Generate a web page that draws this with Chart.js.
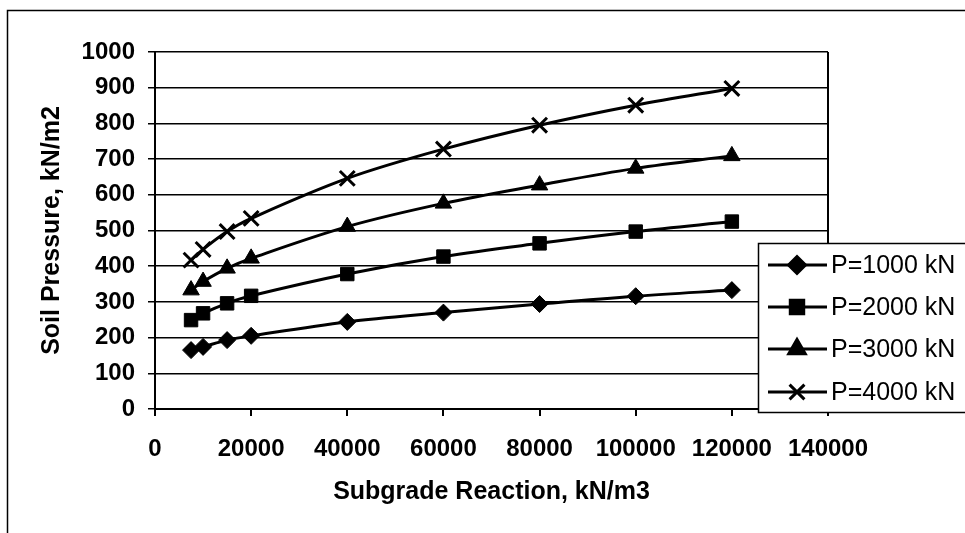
<!DOCTYPE html>
<html lang="en">
<head>
    <meta charset="UTF-8">
    <title>Soil Pressure vs Subgrade Reaction</title>
    <script src="https://cdn.jsdelivr.net/npm/chart.js"></script>
    <style>
        body {
            margin: 0;
            padding: 0;
            background-color: #fff;
            overflow: hidden;
        }
        #chart-container {
            width: 965px;
            height: 533px;
        }
    </style>
</head>
<body>
    <div id="chart-container">
        <canvas id="pressureChart" width="965" height="533"></canvas>
    </div>

    <script>
        // subgrade reaction values (x)
        const subgrade = [7500, 10000, 15000, 20000, 40000, 60000, 80000, 100000, 120000];

        const p1000 = [165, 174, 193, 205, 244, 270, 294, 316, 333];
        const p2000 = [249, 268, 296, 317, 378, 427, 464, 497, 525];
        const p3000 = [333, 357, 394, 422, 511, 576, 627, 674, 709];
        const p4000 = [417, 447, 497, 534, 646, 728, 795, 851, 898];

        const seriesLabels = ['P=1000 kN', 'P=2000 kN', 'P=3000 kN', 'P=4000 kN'];
        const pointStyles = ['rectRot', 'rect', 'triangle', 'crossRot'];
        const pointSizes = [8.5, 9.5, 9.5, 10.5];

        const font = 'Liberation Sans, Arial, sans-serif';

        function makeSet(i, values) {
            return {
                label: seriesLabels[i],
                data: subgrade.map((x, k) => ({ x: x, y: values[k] })),
                borderColor: '#000',
                backgroundColor: '#000',
                borderWidth: 3,
                pointStyle: pointStyles[i],
                pointRadius: pointSizes[i],
                pointBorderWidth: i === 3 ? 3 : 1,
                pointBorderColor: '#000',
                pointBackgroundColor: '#000',
                tension: 0.35,
                fill: false
            };
        }

        // outer frame + legend box drawn on top of the plot
        const frameAndLegend = {
            id: 'frameAndLegend',
            beforeDraw(chart) {
                const ctx = chart.ctx;
                ctx.save();
                ctx.fillStyle = '#fff';
                ctx.fillRect(0, 0, chart.width, chart.height);
                ctx.strokeStyle = '#000';
                ctx.lineWidth = 1.5;
                ctx.strokeRect(7.5, 10.5, 1100, 700);
                ctx.restore();
            },
            afterDraw(chart) {
                const ctx = chart.ctx;
                ctx.save();
                ctx.fillStyle = '#fff';
                ctx.fillRect(758, 243, 220, 169);
                ctx.strokeStyle = '#000';
                ctx.lineWidth = 1.5;
                ctx.strokeRect(758.5, 243.5, 220, 169);

                const rows = [265, 307, 349, 392];
                ctx.font = '25px ' + font;
                ctx.textBaseline = 'middle';
                chart.data.datasets.forEach((ds, i) => {
                    const y = rows[i];
                    ctx.strokeStyle = '#000';
                    ctx.lineWidth = 3;
                    ctx.beginPath();
                    ctx.moveTo(768, y);
                    ctx.lineTo(827, y);
                    ctx.stroke();
                    ctx.fillStyle = '#000';
                    Chart.helpers.drawPoint(ctx, {
                        pointStyle: ds.pointStyle,
                        radius: ds.pointRadius,
                        borderWidth: ds.pointBorderWidth,
                        rotation: 0
                    }, 797, y);
                    ctx.fillStyle = '#000';
                    ctx.fillText(ds.label, 831, y + 1);
                });
                ctx.restore();
            }
        };

        const ctx = document.getElementById('pressureChart').getContext('2d');
        new Chart(ctx, {
            type: 'line',
            data: {
                datasets: [
                    makeSet(0, p1000),
                    makeSet(1, p2000),
                    makeSet(2, p3000),
                    makeSet(3, p4000)
                ]
            },
            options: {
                responsive: false,
                animation: false,
                devicePixelRatio: 1,
                layout: {
                    padding: { left: 0, top: 52, right: 137, bottom: 0 }
                },
                plugins: {
                    legend: { display: false },
                    tooltip: { enabled: false }
                },
                scales: {
                    x: {
                        type: 'linear',
                        min: 0,
                        max: 140000,
                        afterFit(scale) { scale.height = 124; },
                        ticks: {
                            stepSize: 20000,
                            color: '#000',
                            padding: 19,
                            maxRotation: 0,
                            callback: v => String(v),
                            font: { family: font, size: 24, weight: 'bold' }
                        },
                        grid: {
                            color: c => (c.tick && c.tick.value === 140000) ? '#000' : 'rgba(0,0,0,0)',
                            lineWidth: 2,
                            tickColor: '#000',
                            tickLength: 7
                        },
                        border: { color: '#000', width: 2 },
                        title: {
                            display: true,
                            text: 'Subgrade Reaction, kN/m3',
                            color: '#000',
                            padding: 26,
                            font: { family: font, size: 25, weight: 'bold' }
                        }
                    },
                    y: {
                        min: 0,
                        max: 1000,
                        afterFit(scale) { scale.width = 155; },
                        ticks: {
                            stepSize: 100,
                            color: '#000',
                            padding: 13,
                            callback: v => String(v),
                            font: { family: font, size: 24, weight: 'bold' }
                        },
                        grid: {
                            color: '#000',
                            lineWidth: 1.5,
                            tickColor: '#000',
                            tickLength: 7
                        },
                        border: { color: '#000', width: 2 },
                        title: {
                            display: true,
                            text: 'Soil Pressure, kN/m2',
                            color: '#000',
                            padding: 37,
                            font: { family: font, size: 25, weight: 'bold' }
                        }
                    }
                }
            },
            plugins: [frameAndLegend]
        });
    </script>
</body>
</html>
